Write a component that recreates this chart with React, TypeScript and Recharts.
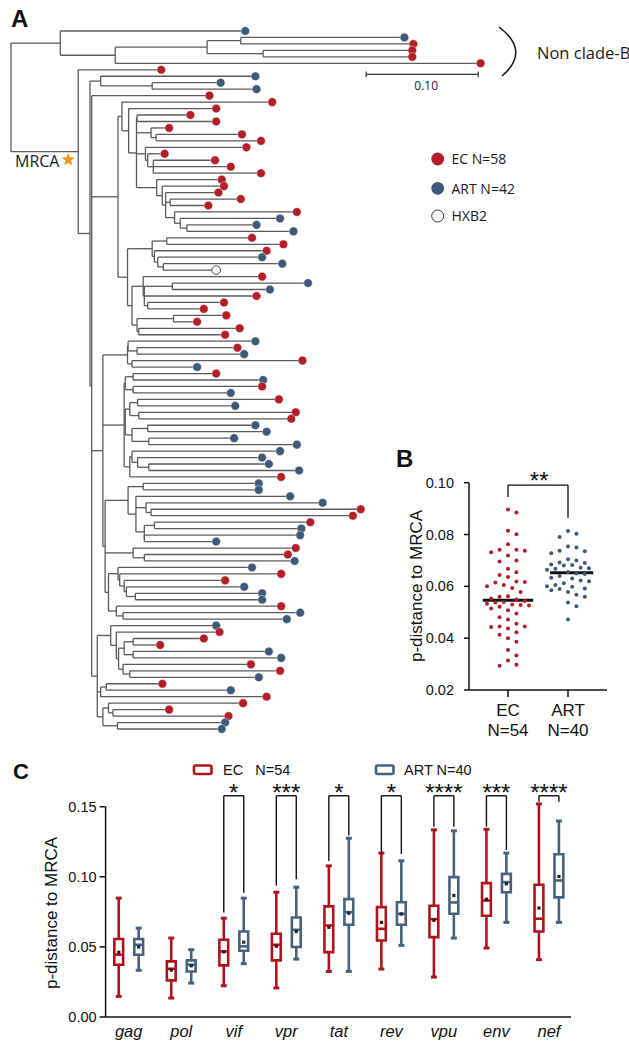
import React from "react";
import {
  ScatterChart,
  Scatter,
  ComposedChart,
  XAxis,
  YAxis,
  ReferenceLine,
  ReferenceArea,
  ReferenceDot,
} from "recharts";

const EC_RED = "#b21f29";
const ART_BLUE = "#3f5a79";
const BOX_RED = "#ae141d";
const BOX_BLUE = "#47627f";
const BRANCH = "#5b5b5b";
const AXIS_FONT = "'Liberation Sans', Arial, sans-serif";
const TREE_FONT = "'Open Sans', 'Noto Sans', sans-serif";

// ---------------- panel A : tree ----------------
// tip = [depth, group]   node = [depth, children, mark?]   (depth in subst./site)
type Group = "E" | "A" | "H";
type TreeItem = any[];

const nonCladeB: TreeItem = [0.044, [
  [0.206, "A"],
  [0.093, [
    [0.175, [
      [0.205, [[0.348, "A"], [0.356, "E"]]],
      [0.225, [[0.355, "E"], [0.355, "E"]]],
    ]],
    [0.416, "E"],
  ]],
]];

const basalB: TreeItem = [0.080, [[0.215, "A"], [0.126, [[0.184, "A"], [0.216, "A"]]]]];

const subA: TreeItem = [0.1125, [[0.157, "E"], [0.180, "E"]]];
const subB: TreeItem = [0.125, [[0.138, "E"], [0.1295, [[0.203, "E"], [0.220, "E"]]]]];
const subC: TreeItem = [0.120, [[0.207, "E"], [0.122, [[0.134, "E"], [0.127, [[0.179, "E"], [0.193, "E"], [0.220, "E"]]]]]]];
const subD: TreeItem = [0.130, [
  [0.185, "E"],
  [0.135, [
    [0.187, "E"],
    [0.138, [
      [0.182, "E"],
      [0.142, [[0.202, "E"], [0.173, "E"]]],
      [0.146, [[0.252, "E"], [0.151, [[0.237, "A"], [0.157, [[0.216, "A"], [0.249, "A"]]]]]]],
    ]],
  ]],
]];
const subE: TreeItem = [0.126, [
  [0.139, [[0.212, "E"], [0.240, "E"]]],
  [0.128, [[0.225, "E"], [0.131, [[0.221, "A"], [0.136, [[0.239, "A"], [0.180, "H"]]]]]]],
]];
const subF: TreeItem = [0.118, [
  [0.221, "E"],
  [0.119, [[0.144, [[0.262, "A"], [0.228, "A"]]], [0.216, "E"], [0.122, [[0.187, "E"], [0.169, "E"]]]]],
]];
const subG: TreeItem = [0.1125, [[0.145, [[0.189, "E"], [0.163, "E"]]], [0.114, [[0.201, "E"], [0.188, "E"]]]]];
const cladeP: TreeItem = [0.0955, [
  [0.099, [[0.230, "E"], [0.105, [[0.180, "E"], [0.112, [subA, subB, subC, subD]]]]]],
  [0.104, [subE, [0.108, [subF, subG]]]],
]];

const subH: TreeItem = [0.1045, [[0.215, "A"], [0.1125, [[0.199, "E"], [0.205, "A"]]]]];
const subI: TreeItem = [0.108, [[0.257, "E"], [0.163, "A"]]];
const subJ: TreeItem = [0.102, [[0.109, [[0.180, "E"], [0.222, "A"]]], [0.109, [[0.221, "E"], [0.193, "A"]]]]];
const subK: TreeItem = [0.106, [[0.113, [[0.236, "E"], [0.197, "A"]]], [0.114, [[0.251, "E"], [0.247, "E"]]]]];
const subL: TreeItem = [0.108, [[0.122, [[0.215, "A"], [0.225, "A"]]], [0.123, [[0.196, "A"], [0.252, "A"]]]]];
const subM: TreeItem = [0.108, [[0.237, "A"], [0.113, [[0.221, "A"], [0.123, [[0.227, "A"], [0.254, "A"]]]]]]];
const subN: TreeItem = [0.118, [[0.218, "A"], [0.218, "A"]]];
const subO: TreeItem = [0.1115, [
  [0.246, "A"],
  [0.1205, [[0.275, "A"], [0.125, [[0.309, "E"], [0.302, "E"]]]]],
  [0.119, [[0.128, [[0.264, "E"], [0.256, "A"]]], [0.119, [[0.255, "A"], [0.180, "A"]]]]],
]];
const subQ: TreeItem = [0.109, [[0.251, "E"], [0.119, [[0.244, "E"], [0.250, "A"]]]]];
const subR: TreeItem = [0.0955, [[0.212, "A"], [0.097, [[0.238, "E"], [0.101, [[0.188, "E"], [0.103, [[0.205, "A"], [0.111, [[0.221, "A"], [0.221, "A"]]]]]]]]]]];
const subS: TreeItem = [0.094, [[0.238, "E"], [0.100, [[0.255, "A"], [0.243, "A"]]]]];
const cladeQ: TreeItem = [0.082, [
  [0.104, [subH, subI]],
  [0.101, [subJ, [0.102, [subK, subL]], [0.106, [subM, [0.238, "E"]]]]],
  [0.084, [[0.1045, [subN, subO]], subQ, [0.087, [subR, subS]]]],
]];

const subT: TreeItem = [0.089, [
  [0.180, "A"],
  [0.094, [
    [0.183, "E"],
    [0.096, [
      [0.101, [[0.109, [[0.169, "E"], [0.130, "E"]]], [0.109, [[0.227, "A"], [0.238, "A"]]]]],
      [0.100, [[0.211, "E"], [0.106, [[0.237, "E"], [0.218, "A"]]]]],
    ]],
  ]],
]];
const subU: TreeItem = [0.080, [[0.085, [[0.132, "E"], [0.193, "A"]]], [0.225, "E"]]];
const subV: TreeItem = [0.082, [[0.087, [[0.204, "E"], [0.091, [[0.138, "E"], [0.191, "E"]]]]], [0.095, [[0.188, "A"], [0.185, "A"]]]]];
const cladeLow: TreeItem = [0.077, [subT, subU, subV]];

const mrcaClade: TreeItem = [0.060, [
  [0.131, "E"],
  [0.0705, [basalB, [0.072, [[0.174, "E"], cladeP, cladeQ, cladeLow]]]],
], "MRCA"];

const treeRoot: TreeItem = [0, [nonCladeB, mrcaClade]];

const SCALE_LEN = 0.1;
const SCALE_START = 0.317;
const SCALE_ROW = 6.7;

function layoutTree(root: TreeItem) {
  const segs: { x1: number; y1: number; x2: number; y2: number }[] = [];
  const tips: { x: number; y: number; g: Group }[] = [];
  const marks: Record<string, { x: number; y: number }> = {};
  let next = 0;
  const walk = (node: TreeItem, parent: number | null): number => {
    const depth = node[0];
    const body = node[1];
    let y: number;
    if (typeof body === "string") {
      y = next++;
      tips.push({ x: depth, y, g: body as Group });
    } else {
      const ys = body.map((c: TreeItem) => walk(c, depth));
      const top = ys[0];
      const bottom = ys[ys.length - 1];
      y = (top + bottom) / 2;
      segs.push({ x1: depth, y1: top, x2: depth, y2: bottom });
      if (node[2]) marks[node[2]] = { x: depth, y };
    }
    if (parent !== null) segs.push({ x1: parent, y1: y, x2: depth, y2: y });
    return y;
  };
  walk(root, null);
  return { segs, tips, marks };
}

const TREE = layoutTree(treeRoot);
const LEAF_MAX = TREE.tips.length - 1;

const TipDot = (p: any) => {
  const g = p.payload.g;
  const fill = g === "E" ? EC_RED : g === "A" ? ART_BLUE : "#fff";
  return (
    <circle
      cx={p.cx + 3.5}
      cy={p.cy}
      r={4.3}
      fill={fill}
      stroke={g === "H" ? "#333" : "#fff"}
      strokeWidth={g === "H" ? 0.9 : 0.4}
    />
  );
};

function starPath(cx: number, cy: number, R: number, r: number) {
  let d = "";
  for (let i = 0; i < 10; i++) {
    const a = -Math.PI / 2 + (i * Math.PI) / 5;
    const rad = i % 2 === 0 ? R : r;
    d += (i === 0 ? "M" : "L") + (cx + rad * Math.cos(a)).toFixed(2) + " " + (cy + rad * Math.sin(a)).toFixed(2);
  }
  return d + "Z";
}

function TreePanel() {
  const mrca = TREE.marks.MRCA;
  return (
    <div style={{ position: "absolute", left: 0, top: 0 }}>
      <ScatterChart width={629} height={760} margin={{ top: 31, right: 125, bottom: 31, left: 11 }}>
        <XAxis type="number" dataKey="x" domain={[0, 0.44]} hide />
        <YAxis type="number" dataKey="y" domain={[0, LEAF_MAX]} reversed hide />
        {TREE.segs.map((s, i) => (
          <ReferenceLine
            key={"b" + i}
            segment={[{ x: s.x1, y: s.y1 }, { x: s.x2, y: s.y2 }]}
            stroke={BRANCH}
            strokeWidth={1.3}
            ifOverflow="visible"
          />
        ))}
        <ReferenceLine
          segment={[{ x: SCALE_START, y: SCALE_ROW }, { x: SCALE_START + SCALE_LEN, y: SCALE_ROW }]}
          stroke="#333"
          strokeWidth={1.2}
          ifOverflow="visible"
        />
        {[SCALE_START, SCALE_START + SCALE_LEN].map((x) => (
          <ReferenceLine
            key={"sb" + x}
            segment={[{ x, y: SCALE_ROW - 0.45 }, { x, y: SCALE_ROW + 0.45 }]}
            stroke="#333"
            strokeWidth={1.2}
            ifOverflow="visible"
          />
        ))}
        <ReferenceDot
          x={SCALE_START + SCALE_LEN / 2}
          y={SCALE_ROW}
          r={0}
          ifOverflow="visible"
          shape={(p: any) => (
            <text x={p.cx + 4} y={p.cy + 15.5} textAnchor="middle" fontSize={12} fontFamily={TREE_FONT} fill="#222">
              {SCALE_LEN.toFixed(2)}
            </text>
          )}
        />
        <ReferenceDot
          x={mrca.x}
          y={mrca.y}
          r={0}
          ifOverflow="visible"
          shape={(p: any) => <path d={starPath(p.cx - 10, p.cy + 8, 7, 3)} fill="#f7941d" />}
        />
        <Scatter data={TREE.tips} isAnimationActive={false} shape={TipDot} />
      </ScatterChart>
    </div>
  );
}

// ---------------- panel B : p-distance dot plot ----------------
const bGroups = ["EC", "ART"];
const bCounts = ["N=54", "N=40"];
const bTicks = [0.02, 0.04, 0.06, 0.08, 0.1];
const ecDistance = [
  0.0897, 0.0885, 0.0815, 0.0801, 0.0762, 0.0741, 0.0741, 0.0737, 0.0732, 0.0719,
  0.07, 0.0696, 0.0668, 0.0654, 0.0644, 0.0636, 0.0619, 0.0617, 0.0615, 0.0605,
  0.06, 0.0594, 0.0578, 0.0562, 0.056, 0.0553, 0.0549, 0.0543, 0.054, 0.0538,
  0.0533, 0.053, 0.0528, 0.0526, 0.0521, 0.0515, 0.0508, 0.0495, 0.0481, 0.0472,
  0.0456, 0.0445, 0.0445, 0.0443, 0.0437, 0.0423, 0.0413, 0.04, 0.0386, 0.0354,
  0.0333, 0.0314, 0.0297, 0.0294,
];
const artDistance = [
  0.0814, 0.0803, 0.079, 0.0754, 0.075, 0.0737, 0.0735, 0.0728, 0.0705, 0.07,
  0.0692, 0.069, 0.0684, 0.0682, 0.068, 0.0672, 0.067, 0.0668, 0.0664, 0.0655,
  0.065, 0.0648, 0.064, 0.0633, 0.063, 0.0623, 0.062, 0.0612, 0.0605, 0.06,
  0.0598, 0.0592, 0.059, 0.0585, 0.0578, 0.0568, 0.056, 0.0538, 0.0523, 0.0472,
];
const bMedianSpan = [[-0.42, 0.42], [-0.3, 0.42]];
const bSig = { label: "**", top: 0.0991, legEC: 0.0945, legART: 0.0864, labelY: 0.1029 };

const median = (a: number[]) => {
  const s = [...a].sort((x, y) => x - y);
  const m = Math.floor(s.length / 2);
  return s.length % 2 ? s[m] : (s[m - 1] + s[m]) / 2;
};

// simple bee-swarm: y px per unit and x px per group taken from the panel size
const B_PX_Y = 52 / 0.02;
const B_PX_X = 60;
function swarm(values: number[], center: number) {
  const placed: { dx: number; py: number }[] = [];
  return [...values]
    .sort((a, b) => b - a)
    .map((v) => {
      const py = v * B_PX_Y;
      let dx = 0;
      let bestGap = -1;
      for (let k = 0; k <= 10; k++) {
        const cand = k === 0 ? 0 : (k % 2 ? 1 : -1) * Math.ceil(k / 2) * 4.2;
        const gap = placed.length
          ? Math.min(...placed.map((p) => Math.hypot(p.dx - cand, p.py - py)))
          : Infinity;
        if (gap >= 8.2) {
          dx = cand;
          break;
        }
        if (gap > bestGap) {
          bestGap = gap;
          dx = cand;
        }
      }
      placed.push({ dx, py });
      return { x: center + dx / B_PX_X, y: v };
    });
}
const ecSwarm = swarm(ecDistance, 0);
const artSwarm = swarm(artDistance, 1);

const BTick = (p: any) => {
  const i = p.payload.value;
  return (
    <g>
      <text x={p.x} y={p.y + 16.7} textAnchor="middle" fontSize={17} fontFamily={AXIS_FONT} fill="#111">
        {bGroups[i]}
      </text>
      <text x={p.x} y={p.y + 37} textAnchor="middle" fontSize={17} fontFamily={AXIS_FONT} fill="#111">
        {bCounts[i]}
      </text>
    </g>
  );
};

const StarLabel = (text: string) => (p: any) => (
  <text x={p.cx} y={p.cy + 13.8} textAnchor="middle" fontSize={24} fontFamily={AXIS_FONT} fill="#111">
    {text}
  </text>
);

function SwarmPanel() {
  const axisStyle = { stroke: "#111", strokeWidth: 1.5 };
  return (
    <div style={{ position: "absolute", left: 400, top: 440 }}>
      <ScatterChart width={215} height={320} margin={{ top: 42.7, right: 8, bottom: 10, left: 0 }}>
        <XAxis
          type="number"
          dataKey="x"
          domain={[-0.65, 1.65]}
          ticks={[0, 1]}
          interval={0}
          height={60}
          tickSize={7}
          tickLine={axisStyle}
          axisLine={axisStyle}
          tick={<BTick />}
        />
        <YAxis
          type="number"
          dataKey="y"
          domain={[0.02, 0.1]}
          ticks={bTicks}
          interval={0}
          width={69}
          tickSize={5}
          tickMargin={10}
          tickLine={axisStyle}
          axisLine={axisStyle}
          tick={{ fill: "#111", fontSize: 14.5, fontFamily: AXIS_FONT }}
          tickFormatter={(v: number) => v.toFixed(2)}
        />
        <Scatter data={ecSwarm} fill={EC_RED} isAnimationActive={false} shape={(p: any) => <circle cx={p.cx} cy={p.cy} r={2} fill={EC_RED} />} />
        <Scatter data={artSwarm} fill={ART_BLUE} isAnimationActive={false} shape={(p: any) => <circle cx={p.cx} cy={p.cy} r={2} fill={ART_BLUE} />} />
        {[ecDistance, artDistance].map((vals, i) => (
          <ReferenceLine
            key={"med" + i}
            segment={[{ x: i + bMedianSpan[i][0], y: median(vals) }, { x: i + bMedianSpan[i][1], y: median(vals) }]}
            stroke="#111"
            strokeWidth={3}
            ifOverflow="visible"
          />
        ))}
        <ReferenceLine segment={[{ x: 0, y: bSig.legEC }, { x: 0, y: bSig.top }]} stroke="#111" strokeWidth={1.3} ifOverflow="visible" />
        <ReferenceLine segment={[{ x: 0, y: bSig.top }, { x: 1, y: bSig.top }]} stroke="#111" strokeWidth={1.3} ifOverflow="visible" />
        <ReferenceLine segment={[{ x: 1, y: bSig.legART }, { x: 1, y: bSig.top }]} stroke="#111" strokeWidth={1.3} ifOverflow="visible" />
        <ReferenceDot x={0.52} y={bSig.labelY} r={0} ifOverflow="visible" shape={StarLabel(bSig.label)} />
      </ScatterChart>
    </div>
  );
}

// ---------------- panel C : per-gene box plots ----------------
const genes = ["gag", "pol", "vif", "vpr", "tat", "rev", "vpu", "env", "nef"];
const ecMin = [0.0147, 0.0135, 0.0223, 0.0207, 0.0325, 0.0342, 0.0285, 0.0492, 0.0409];
const ecQ1 = [0.0373, 0.0261, 0.0368, 0.0404, 0.0463, 0.0546, 0.057, 0.0722, 0.061];
const ecMed = [0.0444, 0.0344, 0.0468, 0.0515, 0.0653, 0.0629, 0.0698, 0.0831, 0.0701];
const ecQ3 = [0.0556, 0.0397, 0.0551, 0.0594, 0.0789, 0.0784, 0.0793, 0.0955, 0.0943];
const ecMax = [0.0848, 0.0563, 0.0705, 0.089, 0.1078, 0.1169, 0.1335, 0.1339, 0.152];
const ecMean = [0.0461, 0.0335, 0.0465, 0.0505, 0.064, 0.0675, 0.069, 0.084, 0.0777];
const artMin = [0.0333, 0.0242, 0.038, 0.0413, 0.0325, 0.0511, 0.0563, 0.0675, 0.0675];
const artQ1 = [0.0444, 0.0325, 0.0473, 0.0499, 0.0658, 0.0658, 0.0736, 0.089, 0.0853];
const artMed = [0.0515, 0.0373, 0.0504, 0.0622, 0.0748, 0.0736, 0.0817, 0.0962, 0.0974];
const artQ3 = [0.0556, 0.0404, 0.061, 0.071, 0.0841, 0.0819, 0.0998, 0.1021, 0.1161];
const artMax = [0.0634, 0.048, 0.0848, 0.0926, 0.1275, 0.1114, 0.1328, 0.1169, 0.1398];
const artMean = [0.05, 0.0365, 0.0534, 0.061, 0.074, 0.0735, 0.0867, 0.095, 0.1002];
const cTicks = [0, 0.05, 0.1, 0.15];

const sigGenes = ["vif", "vpr", "tat", "rev", "vpu", "env", "nef"];
const sigLabels = ["*", "***", "*", "*", "****", "***", "****"];
const sigLegEC = [0.0745, 0.0937, 0.1113, 0.1172, 0.1357, 0.1357, 0.1535];
const sigLegART = [0.0887, 0.0983, 0.1295, 0.1163, 0.1357, 0.1191, 0.1535];
const SIG_TOP = 0.1578;
const SIG_LABEL_Y = 0.1639;

const OFF = 0.19;
const HALF_BOX = 0.084;
const HALF_CAP = 0.057;

const boxSets = [
  { off: -OFF, color: BOX_RED, min: ecMin, q1: ecQ1, med: ecMed, q3: ecQ3, max: ecMax, mean: ecMean, dot: "#3a1114" },
  { off: OFF, color: BOX_BLUE, min: artMin, q1: artQ1, med: artMed, q3: artQ3, max: artMax, mean: artMean, dot: "#1c2a3a" },
];

const meanPoints = boxSets.flatMap((s) => genes.map((_, i) => ({ x: i + s.off, y: s.mean[i], c: s.dot })));

const MeanMark = (p: any) => (
  <rect x={p.cx - 1.6} y={p.cy - 1.6} width={3.2} height={3.2} fill={p.payload.c} />
);

function BoxPanel() {
  const axisStyle = { stroke: "#111", strokeWidth: 1.5 };
  const items: React.ReactNode[] = [];
  boxSets.forEach((s, si) => {
    genes.forEach((_, i) => {
      const cx = i + s.off;
      const common = { stroke: s.color, strokeWidth: 2.6, ifOverflow: "visible" as const };
      items.push(
        <ReferenceLine key={`wl${si}${i}`} segment={[{ x: cx, y: s.min[i] }, { x: cx, y: s.q1[i] }]} {...common} />,
        <ReferenceLine key={`wh${si}${i}`} segment={[{ x: cx, y: s.q3[i] }, { x: cx, y: s.max[i] }]} {...common} />,
        <ReferenceLine key={`cl${si}${i}`} segment={[{ x: cx - HALF_CAP, y: s.min[i] }, { x: cx + HALF_CAP, y: s.min[i] }]} {...common} strokeWidth={3} />,
        <ReferenceLine key={`ch${si}${i}`} segment={[{ x: cx - HALF_CAP, y: s.max[i] }, { x: cx + HALF_CAP, y: s.max[i] }]} {...common} strokeWidth={3} />,
        <ReferenceArea key={`bx${si}${i}`} x1={cx - HALF_BOX} x2={cx + HALF_BOX} y1={s.q1[i]} y2={s.q3[i]} fill="none" stroke={s.color} strokeWidth={2.6} ifOverflow="visible" />,
        <ReferenceLine key={`md${si}${i}`} segment={[{ x: cx - HALF_BOX, y: s.med[i] }, { x: cx + HALF_BOX, y: s.med[i] }]} {...common} />
      );
    });
  });
  sigGenes.forEach((g, k) => {
    const i = genes.indexOf(g);
    const line = { stroke: "#111", strokeWidth: 1.4, ifOverflow: "visible" as const };
    items.push(
      <ReferenceLine key={`sl${k}`} segment={[{ x: i - OFF, y: sigLegEC[k] }, { x: i - OFF, y: SIG_TOP }]} {...line} />,
      <ReferenceLine key={`st${k}`} segment={[{ x: i - OFF, y: SIG_TOP }, { x: i + OFF, y: SIG_TOP }]} {...line} />,
      <ReferenceLine key={`sr${k}`} segment={[{ x: i + OFF, y: sigLegART[k] }, { x: i + OFF, y: SIG_TOP }]} {...line} />,
      <ReferenceDot key={`ss${k}`} x={i} y={SIG_LABEL_Y} r={0} ifOverflow="visible" shape={StarLabel(sigLabels[k])} />
    );
  });
  return (
    <div style={{ position: "absolute", left: 0, top: 740 }}>
      <ComposedChart width={629} height={310} margin={{ top: 66.7, right: 58, bottom: 3, left: 0 }}>
        <XAxis
          type="number"
          dataKey="x"
          domain={[-0.44, 8.42]}
          ticks={genes.map((_, i) => i)}
          interval={0}
          height={30}
          tickLine={false}
          axisLine={axisStyle}
          tickFormatter={(i: number) => genes[i]}
          tick={{ fill: "#111", fontSize: 16.5, fontStyle: "italic", fontFamily: AXIS_FONT }}
        />
        <YAxis
          type="number"
          dataKey="y"
          domain={[0, 0.15]}
          ticks={cTicks}
          interval={0}
          width={105.6}
          tickSize={6}
          tickMargin={3}
          tickLine={axisStyle}
          axisLine={axisStyle}
          tickFormatter={(v: number) => v.toFixed(2)}
          tick={{ fill: "#111", fontSize: 14.5, fontFamily: AXIS_FONT }}
        />
        {items}
        <Scatter data={meanPoints} isAnimationActive={false} shape={MeanMark} />
      </ComposedChart>
    </div>
  );
}

// ---------------- labels, legends ----------------
function Overlay() {
  const t = { fontFamily: TREE_FONT, fill: "#1a1a1a" };
  const a = { fontFamily: AXIS_FONT, fill: "#111" };
  return (
    <svg width={629} height={1050} style={{ position: "absolute", left: 0, top: 0, pointerEvents: "none" }}>
      <text x={11} y={27} fontSize={24} fontWeight="bold" {...a}>A</text>
      <text x={396} y={467} fontSize={24} fontWeight="bold" {...a}>B</text>
      <text x={13} y={779} fontSize={22} fontWeight="bold" {...a}>C</text>

      <path d="M 499 27 Q 531 51 502 76" fill="none" stroke="#111" strokeWidth={1.5} />
      <text x={537} y={59} fontSize={16.5} {...t}>Non clade-B</text>
      <text x={15} y={166.5} fontSize={16} {...t}>MRCA</text>

      <circle cx={437.7} cy={159} r={6.4} fill={EC_RED} />
      <text x={451.5} y={164.3} fontSize={14} {...t}>EC N=58</text>
      <circle cx={437.7} cy={188.3} r={6.4} fill={ART_BLUE} />
      <text x={451.5} y={193.6} fontSize={14} {...t}>ART N=42</text>
      <circle cx={437.7} cy={216} r={6} fill="#fff" stroke="#333" strokeWidth={1} />
      <text x={451.5} y={221.3} fontSize={14} {...t}>HXB2</text>

      <text transform="translate(422,586) rotate(-90)" textAnchor="middle" fontSize={17} {...a}>p-distance to MRCA</text>
      <text transform="translate(57,913) rotate(-90)" textAnchor="middle" fontSize={17} {...a}>p-distance to MRCA</text>

      <rect x={194} y={765.5} width={17.5} height={8.5} rx={1.5} fill="none" stroke={BOX_RED} strokeWidth={2.6} />
      <text x={223} y={775} fontSize={14.5} style={{ whiteSpace: "pre" }} {...a}>{"EC   N=54"}</text>
      <rect x={376} y={765.5} width={17.5} height={8.5} rx={1.5} fill="none" stroke={BOX_BLUE} strokeWidth={2.6} />
      <text x={404} y={775} fontSize={14.5} {...a}>ART N=40</text>
    </svg>
  );
}

export default function App() {
  return (
    <div style={{ position: "absolute", left: 0, top: 0, width: 629, height: 1050, background: "#fff", overflow: "hidden" }}>
      <TreePanel />
      <SwarmPanel />
      <BoxPanel />
      <Overlay />
    </div>
  );
}
